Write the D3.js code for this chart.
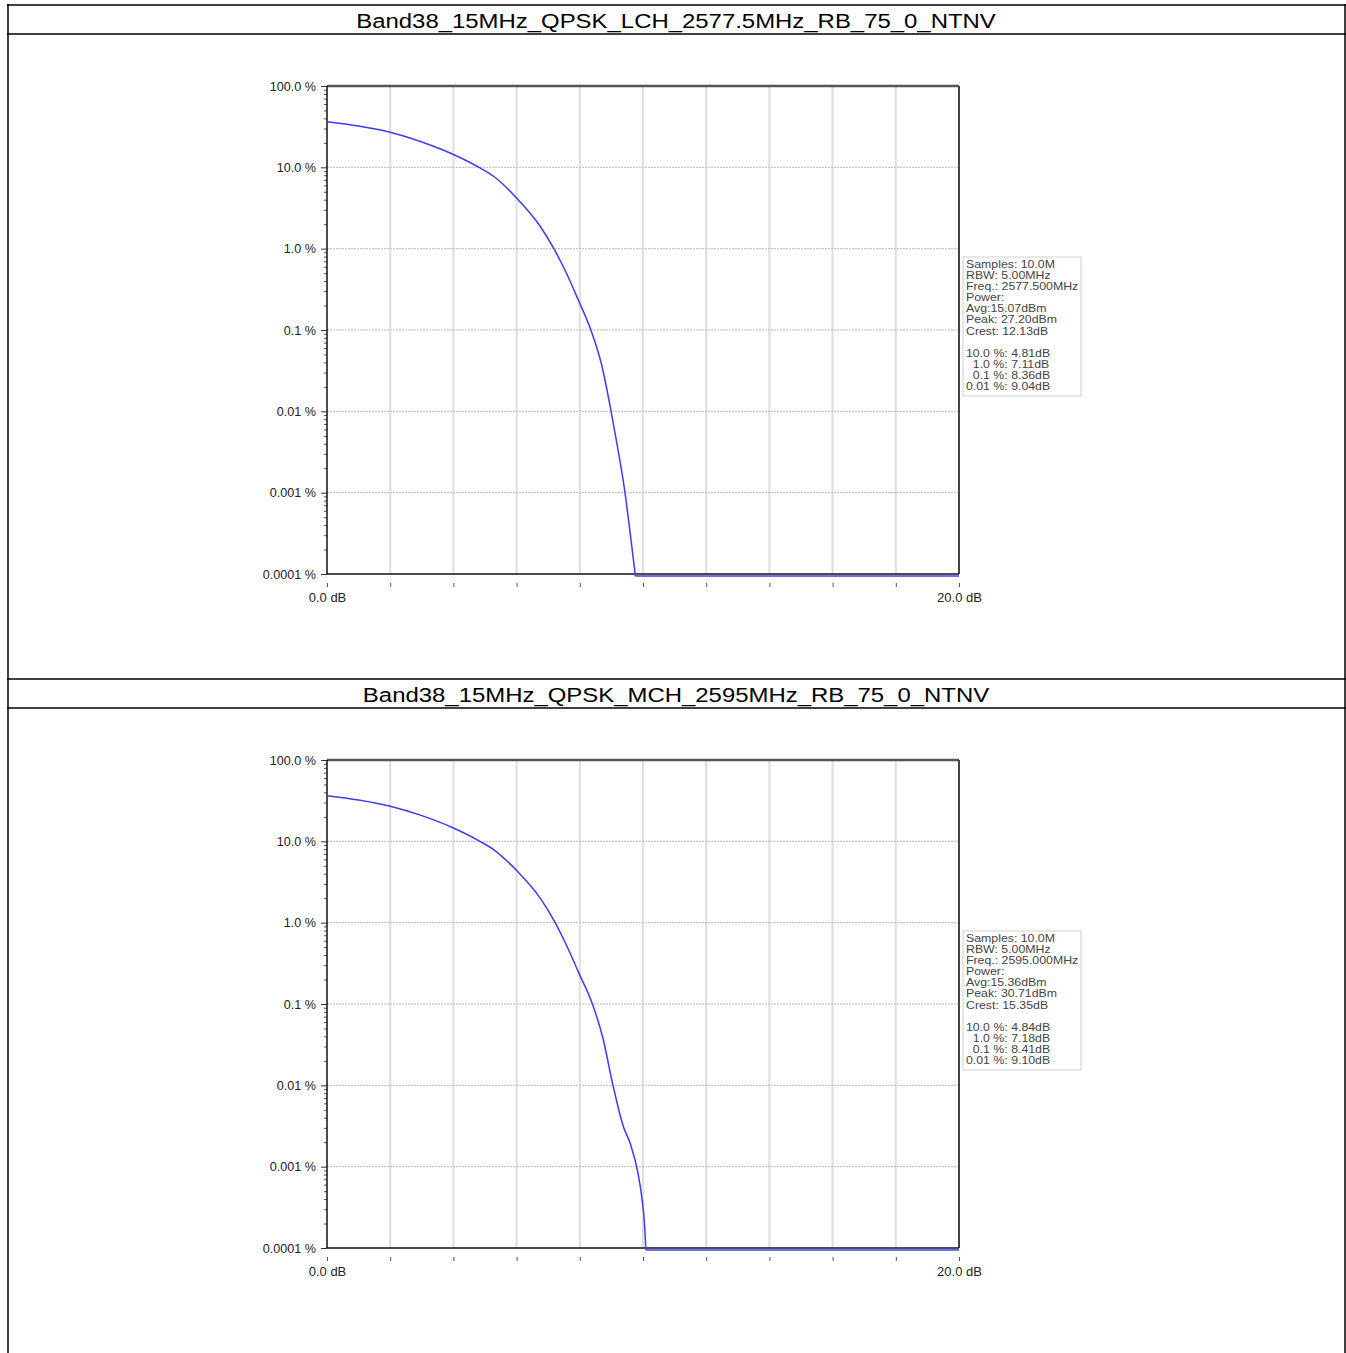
<!DOCTYPE html>
<html>
<head>
<meta charset="utf-8">
<script src="https://cdn.jsdelivr.net/npm/d3@7"></script>
<style>
  html, body { margin: 0; padding: 0; background: #fff; }
  svg { display: block; }
  text { font-family: "Liberation Sans", Arial, sans-serif; }
</style>
</head>
<body>
<svg id="chart" width="1346" height="1353"></svg>
<script>
// ---------------- data ----------------
const titles = [
  "Band38_15MHz_QPSK_LCH_2577.5MHz_RB_75_0_NTNV",
  "Band38_15MHz_QPSK_MCH_2595MHz_RB_75_0_NTNV"
];

// CCDF curve 1 (dB above average power, probability in %)
const db1  = [0, 1.0, 2.0, 3.0, 4.0, 4.81, 5.26, 6.0, 6.74, 7.18, 7.56, 7.94, 8.35, 8.70, 8.99, 9.21, 9.43, 9.59, 9.76, 20];
const pct1 = [36.4, 32.2, 27.0, 20.5, 14.4, 10.0, 7.82, 4.20, 1.90, 1.0, 0.516, 0.240, 0.1, 0.0361, 0.01, 0.00335, 0.001, 0.000328, 0.0000944, 0.0000944];

// CCDF curve 2
const db2  = [0, 1.0, 2.0, 3.0, 4.0, 4.84, 5.29, 6.03, 6.77, 7.22, 7.59, 7.97, 8.40, 8.73, 9.05, 9.38, 9.59, 9.84, 9.96, 10.06, 10.09, 20];
const pct2 = [36.4, 32.2, 27.0, 20.7, 14.6, 10.0, 7.82, 4.26, 1.95, 1.0, 0.516, 0.240, 0.1, 0.0382, 0.01, 0.0031, 0.00195, 0.000836, 0.000427, 0.000166, 0.0000944, 0.0000944];

const legend1 = ["Samples: 10.0M", "RBW: 5.00MHz", "Freq.: 2577.500MHz", "Power:", "Avg:15.07dBm", "Peak: 27.20dBm", "Crest: 12.13dB", "", "10.0 %: 4.81dB", "  1.0 %: 7.11dB", "  0.1 %: 8.36dB", "0.01 %: 9.04dB"];
const legend2 = ["Samples: 10.0M", "RBW: 5.00MHz", "Freq.: 2595.000MHz", "Power:", "Avg:15.36dBm", "Peak: 30.71dBm", "Crest: 15.35dB", "", "10.0 %: 4.84dB", "  1.0 %: 7.18dB", "  0.1 %: 8.41dB", "0.01 %: 9.10dB"];

const yTickValues = [100, 10, 1, 0.1, 0.01, 0.001, 0.0001];
const yTickLabels = ["100.0 %", "10.0 %", "1.0 %", "0.1 %", "0.01 %", "0.001 %", "0.0001 %"];
const xTickValues = [0, 2, 4, 6, 8, 10, 12, 14, 16, 18, 20];
const xTickLabels = ["0.0 dB", "", "", "", "", "", "", "", "", "", "20.0 dB"];

// ---------------- drawing ----------------
const svg = d3.select("#chart");

// table frame
const tbl = svg.append("g").attr("stroke", "#000").attr("fill", "none");
tbl.append("line").attr("x1", 8).attr("x2", 8).attr("y1", 4).attr("y2", 1353).attr("stroke-width", 1.5);
tbl.append("line").attr("x1", 1345).attr("x2", 1345).attr("y1", 4).attr("y2", 1353).attr("stroke-width", 1.5);
[5, 34, 679, 708].forEach(y => {
  tbl.append("line").attr("x1", 7).attr("x2", 1346).attr("y1", y).attr("y2", y).attr("stroke-width", 1.5);
});

function drawChart(oy, title, dbs, pcts, legend) {
  const g = svg.append("g").attr("transform", `translate(0,${oy})`);

  // title
  g.append("text")
    .attr("transform", "translate(676,28) scale(1.14,1)")
    .attr("text-anchor", "middle")
    .attr("font-size", 21)
    .attr("fill", "#000")
    .text(title);

  const x = d3.scaleLinear().domain([0, 20]).range([327, 959]);
  const y = d3.scaleLog().domain([0.0001, 100]).range([574, 86]);

  // vertical gridlines
  g.append("g").selectAll("line")
    .data(xTickValues.filter(d => d > 0 && d < 20))
    .join("line")
    .attr("x1", d => x(d)).attr("x2", d => x(d))
    .attr("y1", y(100)).attr("y2", y(0.0001))
    .attr("stroke", "#e0e0e0").attr("stroke-width", 2.2);

  // horizontal gridlines
  g.append("g").selectAll("line")
    .data(yTickValues.filter(d => d < 100 && d > 0.0001))
    .join("line")
    .attr("x1", x(0)).attr("x2", x(20))
    .attr("y1", d => y(d)).attr("y2", d => y(d))
    .attr("stroke", "#b8b8b8").attr("stroke-width", 1)
    .attr("stroke-dasharray", "2,1");

  // y axis major ticks + labels
  const yAxis = d3.axisLeft(y)
    .tickValues(yTickValues)
    .tickSize(6).tickPadding(5)
    .tickFormat((d, i) => yTickLabels[i]);
  const ya = g.append("g").attr("transform", `translate(${x(0)},0)`).call(yAxis);
  ya.select(".domain").remove();
  ya.selectAll("line").attr("stroke", "#333");
  ya.selectAll("text").attr("font-size", 12.6).attr("fill", "#222")
    .attr("font-family", "'Liberation Sans', Arial, sans-serif");

  // y axis minor ticks
  const minor = [];
  for (let e = -4; e < 2; e++) for (let m = 2; m <= 9; m++) minor.push(m * Math.pow(10, e));
  const ym = g.append("g").attr("transform", `translate(${x(0)},0)`)
    .call(d3.axisLeft(y).tickValues(minor).tickSize(3).tickFormat(""));
  ym.select(".domain").remove();
  ym.selectAll("line").attr("stroke", "#555");

  // x axis
  const xAxis = d3.axisBottom(x)
    .tickValues(xTickValues)
    .tickSize(4).tickPadding(6)
    .tickFormat((d, i) => xTickLabels[i]);
  const xa = g.append("g").attr("transform", "translate(0,583)").call(xAxis);
  xa.select(".domain").remove();
  xa.selectAll("line").attr("stroke", "#555");
  xa.selectAll("text").attr("font-size", 13).attr("fill", "#222")
    .attr("font-family", "'Liberation Sans', Arial, sans-serif");

  // plot frame
  g.append("line").attr("x1", x(0)).attr("x2", x(20)).attr("y1", y(100)).attr("y2", y(100))
    .attr("stroke", "#555").attr("stroke-width", 2.5);
  g.append("line").attr("x1", x(20)).attr("x2", x(20)).attr("y1", y(100)).attr("y2", y(0.0001))
    .attr("stroke", "#444").attr("stroke-width", 2);
  g.append("line").attr("x1", x(0)).attr("x2", x(20)).attr("y1", y(0.0001)).attr("y2", y(0.0001))
    .attr("stroke", "#111").attr("stroke-width", 1.5);
  g.append("line").attr("x1", x(0)).attr("x2", x(0)).attr("y1", y(100)).attr("y2", y(0.0001))
    .attr("stroke", "#111").attr("stroke-width", 1.5);

  // curve: smooth part down to the floor, then straight floor segment
  const pts = dbs.map((d, i) => [d, pcts[i]]);
  const smooth = d3.line().x(d => x(d[0])).y(d => y(d[1])).curve(d3.curveMonotoneX);
  const straight = d3.line().x(d => x(d[0])).y(d => y(d[1]));
  g.append("path")
    .datum(pts.slice(0, -1))
    .attr("fill", "none")
    .attr("stroke", "#3c3cff")
    .attr("stroke-width", 1.5)
    .attr("d", smooth);
  g.append("path")
    .datum(pts.slice(-2))
    .attr("fill", "none")
    .attr("stroke", "#3c3cff")
    .attr("stroke-width", 1.5)
    .attr("d", straight);

  // info box
  g.append("rect").attr("x", 963).attr("y", 257).attr("width", 118).attr("height", 139)
    .attr("fill", "#fff").attr("stroke", "#cfcfcf").attr("stroke-width", 1);
  g.append("g")
    .attr("transform", "translate(966,0) scale(1.14,1)")
    .selectAll("text")
    .data(legend)
    .join("text")
    .attr("x", 0)
    .attr("y", (d, i) => 268 + i * 11.1)
    .attr("font-size", 10.8)
    .attr("fill", "#444")
    .style("white-space", "pre")
    .text(d => d);
}

drawChart(0, titles[0], db1, pct1, legend1);
drawChart(674, titles[1], db2, pct2, legend2);
</script>
</body>
</html>
